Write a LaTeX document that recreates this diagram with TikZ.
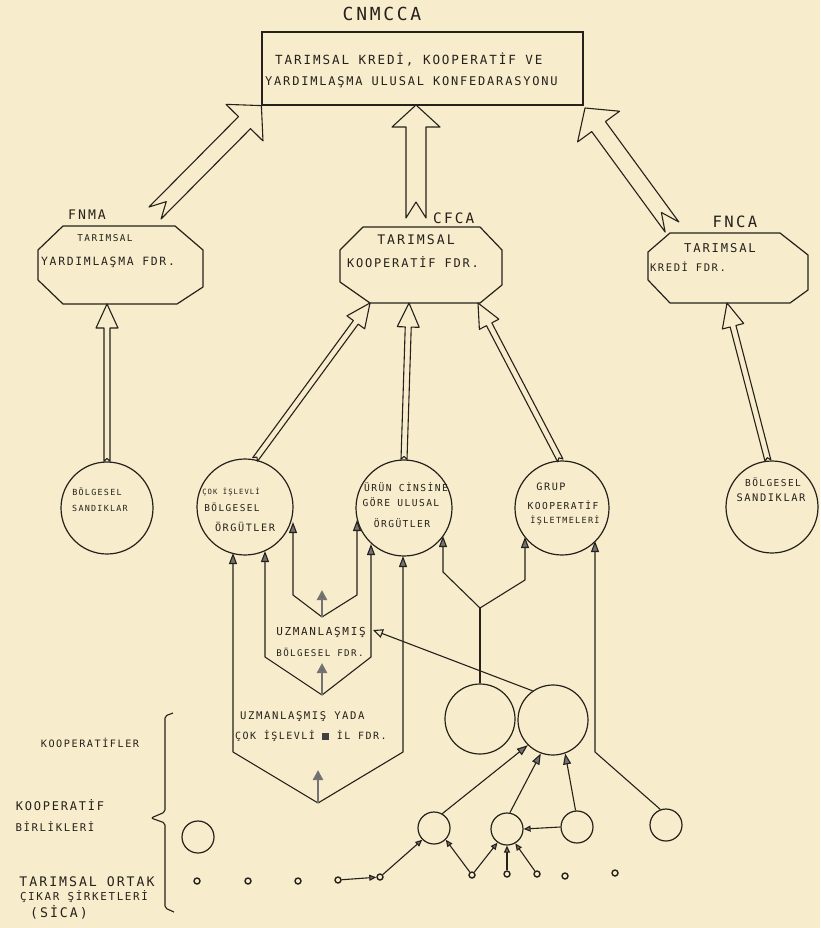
\documentclass[tikz,border=0pt]{standalone}
\usepackage{fontspec}
\usetikzlibrary{calc,arrows.meta}
\newfontfamily\hwfont[LetterSpace=15]{DejaVu Sans Mono}
\newcommand\hwf[1]{\hwfont\fontsize{#1pt}{#1pt}\selectfont}
\definecolor{paper}{RGB}{247,237,204}
\definecolor{ink}{RGB}{38,33,28}
% hollow arrow: #1 tail, #2 tip, #3 half shaft, #4 half head, #5 head length, #6 notch
\newcommand\harrow[6]{%
  \coordinate (hb) at ($(#2)!#5!(#1)$);
  \draw[ln] ($(#1)!#3!90:(#2)$) -- ($(hb)!#3!90:(#2)$) -- ($(hb)!#4!90:(#2)$) -- (#2)
    -- ($(hb)!#4!-90:(#2)$) -- ($(hb)!#3!-90:(#2)$) -- ($(#1)!#3!-90:(#2)$)
    -- ($(#1)!#6!(#2)$) -- cycle;}
\begin{document}
\begin{tikzpicture}[x=1pt,y=-1pt,
  ln/.style={draw=ink, line width=1.1pt, line join=round},
  cir/.style={circle, draw=ink, line width=1.2pt, inner sep=0pt},
  dot/.style={circle, draw=ink, line width=1.4pt, inner sep=0pt, minimum size=6pt},
  oct/.style={draw=ink, line width=1.2pt, line join=round},
  txt/.style={inner sep=0pt, text=ink},
  sarr/.style={-{Triangle[length=11pt,width=8pt,fill=black!55]}},
  sboth/.style={{Triangle[length=11pt,width=8pt,fill=black!55]}-{Triangle[length=11pt,width=8pt,fill=black!55]}},
  ssm/.style={-{Triangle[length=7pt,width=6pt,fill=black!55]}},
  uparr/.style={draw=black!55, line width=2.4pt, -{Triangle[length=10pt,width=10pt,fill=black!60]}}
]
\fill[paper] (0,0) rectangle (820,928);
\useasboundingbox (0,0) rectangle (820,928);

% ---------- top confederation ----------
\node[txt, font={\hwf{18}}] (cnmcca) at (382,14) {CNMCCA};
\node[draw=ink, line width=1.2pt, minimum width=321pt, minimum height=73pt, inner sep=0pt] (conf) at (422.5,68.5) {};
\node[txt, anchor=west, font={\hwf{12.6}}] (conf1) at (275,60) {TARIMSAL KREDİ, KOOPERATİF VE};
\node[txt, anchor=west, font={\hwf{12}}] (conf2) at (265,82) {YARDIMLAŞMA ULUSAL KONFEDARASYONU};

% ---------- federations (octagons) ----------
\draw[oct] (63,226) coordinate (fnma-n) -- (175,226) -- (203,250) -- (203,287) -- (177,304)
  -- (63,304) -- (38,280) -- (38,250) -- cycle;
\draw[oct] (363,227) coordinate (cfca-n) -- (480,227) -- (502,250) -- (502,285) -- (480,303)
  -- (370,303) -- (340,282) -- (340,250) -- cycle;
\draw[oct] (670,233) coordinate (fnca-n) -- (780,233) -- (808,255) -- (808,290) -- (790,303)
  -- (670,303) -- (648,280) -- (648,252) -- cycle;

\node[txt, anchor=west, font={\hwf{13.2}}] (fnmaL) at (68,215) {FNMA};
\node[txt, font={\hwf{9.4}}] (fnma1) at (105,238) {TARIMSAL};
\node[txt, font={\hwf{11.4}}] (fnma2) at (108,262) {YARDIMLAŞMA FDR.};
\node[txt, anchor=west, font={\hwf{14.4}}] (cfcaL) at (433,218) {CFCA};
\node[txt, font={\hwf{13.2}}] (cfca1) at (416,240) {TARIMSAL};
\node[txt, font={\hwf{12}}] (cfca2) at (413,262) {KOOPERATİF FDR.};
\node[txt, font={\hwf{15.6}}] (fncaL) at (735,222) {FNCA};
\node[txt, font={\hwf{12.2}}] (fnca1) at (720,248) {TARIMSAL};
\node[txt, font={\hwf{10.5}}] (fnca2) at (688,267) {KREDİ FDR.};

% ---------- big hollow arrows ----------
\coordinate (tL) at (155,213);
\coordinate (tM) at (416,218);
\coordinate (tR) at (672,227);
\coordinate (hM) at (416,105);
\coordinate (hR) at (585,108);
\harrow{tL}{conf.south west}{8.5pt}{26pt}{24pt}{16pt}
\harrow{tM}{hM}{10pt}{24pt}{22pt}{16pt}
\harrow{tR}{hR}{8.5pt}{26pt}{23pt}{18pt}

% ---------- organisations ----------
\node[cir, minimum size=92pt] (bsL) at (107,508) {};
\node[cir, minimum size=96pt] (cok) at (245,507) {};
\node[cir, minimum size=96pt] (urun) at (404,508) {};
\node[cir, minimum size=94pt] (grup) at (562,508) {};
\node[cir, minimum size=92pt] (bsR) at (772,507) {};

\node[txt, font={\hwf{8.4}}] (bsL1) at (97,492) {BÖLGESEL};
\node[txt, font={\hwf{8.4}}] (bsL2) at (100,508) {SANDIKLAR};
\node[txt, font={\hwf{7.2}}] (cok1) at (231,492) {ÇOK İŞLEVLİ};
\node[txt, font={\hwf{9.4}}] (cok2) at (232,507) {BÖLGESEL};
\node[txt, font={\hwf{10.2}}] (cok3) at (245,527) {ÖRGÜTLER};
\node[txt, font={\hwf{9.6}}] (urun1) at (406,487) {ÜRÜN CİNSİNE};
\node[txt, font={\hwf{9.6}}] (urun2) at (401,502) {GÖRE ULUSAL};
\node[txt, font={\hwf{9.6}}] (urun3) at (402,523) {ÖRGÜTLER};
\node[txt, font={\hwf{10.2}}] (grup1) at (551,487) {GRUP};
\node[txt, font={\hwf{9.6}}] (grup2) at (563,505) {KOOPERATİF};
\node[txt, font={\hwf{8.5}}] (grup3) at (565,520) {İŞLETMELERİ};
\node[txt, font={\hwf{9.5}}] (bsR1) at (773,482) {BÖLGESEL};
\node[txt, font={\hwf{10.4}}] (bsR2) at (771,498) {SANDIKLAR};

% ---------- medium hollow arrows ----------
\coordinate (fnmaB) at (107,304);
\coordinate (cfcaBL) at (370,303);
\coordinate (cfcaB) at (409,303);
\coordinate (cfcaBR) at (478,303);
\coordinate (fncaB) at (727,303);
\harrow{bsL.north}{fnmaB}{3pt}{11pt}{24pt}{3pt}
\harrow{cok.78}{cfcaBL}{3pt}{11pt}{24pt}{3pt}
\harrow{urun.north}{cfcaB}{3pt}{11pt}{24pt}{3pt}
\harrow{grup.92}{cfcaBR}{3pt}{11pt}{24pt}{3pt}
\harrow{bsR.95}{fncaB}{3pt}{11pt}{24pt}{3pt}

% ---------- arrow ends at the circles ----------
\coordinate (tc1) at (233,553);
\coordinate (tc2) at (265,551);
\coordinate (tc3) at (293,522);
\coordinate (tu1) at (357,520);
\coordinate (tu2) at (371,544);
\coordinate (tu3) at (403,556);
\coordinate (tu4) at (443,536);
\coordinate (tg1) at (525,537);
\coordinate (tg2) at (595,541);

% ---------- lower circles ----------
\node[cir, minimum size=70pt] (cA) at (480,719) {};
\node[cir, minimum size=70pt] (cB) at (553,720) {};
\node[cir, minimum size=32pt] (c1) at (434,828) {};
\node[cir, minimum size=32pt] (c2) at (507,829) {};
\node[cir, minimum size=32pt] (c3) at (577,827) {};
\node[cir, minimum size=32pt] (c4) at (666,825) {};
\node[cir, minimum size=32pt] (cL) at (198,837) {};

\node[dot] (d1) at (197,881) {};
\node[dot] (d2) at (248,881) {};
\node[dot] (d3) at (298,881) {};
\node[dot] (d4) at (338,880) {};
\node[dot] (d5) at (380,877) {};
\node[dot] (d6) at (472,875) {};
\node[dot] (d7) at (507,874) {};
\node[dot] (d8) at (537,874) {};
\node[dot] (d9) at (565,876) {};
\node[dot] (d10) at (615,873) {};

% ---------- federation funnels ----------
\coordinate (bpL) at (233,752);
\coordinate (bpB) at (318,803);
\coordinate (bpR) at (403,752);
\coordinate (spL) at (265,657);
\coordinate (spB) at (322,695);
\coordinate (spR) at (371,657);
\coordinate (vL) at (293,595);
\coordinate (vB) at (322,617);
\coordinate (vR) at (357,595);
\draw[ln, sboth] (tc1) -- (bpL) -- (bpB) -- (bpR) -- (tu3);
\draw[ln, sboth] (tc2) -- (spL) -- (spB) -- (spR) -- (tu2);
\draw[ln, sboth] (tc3) -- (vL) -- (vB) -- (vR) -- (tu1);
\coordinate (bpA) at (318,770);
\coordinate (spA) at (322,663);
\coordinate (vA) at (322,590);
\draw[uparr] (bpB) -- (bpA);
\draw[uparr] (spB) -- (spA);
\draw[uparr] (vB) -- (vA);

\node[txt, font={\hwf{11}}] (sp1) at (321,632) {UZMANLAŞMIŞ};
\node[txt, font={\hwf{9.2}}] (sp2) at (320,652) {BÖLGESEL FDR.};
\node[txt, anchor=west, font={\hwf{10.6}}] (bp1) at (240,717) {UZMANLAŞMIŞ YADA};
\node[txt, anchor=west, font={\hwf{10}}] (bp2) at (235,736) {ÇOK İŞLEVLİ {\color{black!75}\rule[-0.5pt]{7pt}{7pt}} İL FDR.};

% ---------- Y to the product / group organisations ----------
\coordinate (yL) at (443,572);
\coordinate (yJ) at (480,608);
\coordinate (yR) at (525,580);
\draw[ln, sboth] (tu4) -- (yL) -- (yJ) -- (yR) -- (tg1);
\draw[ln] (yJ) -- (cA.north);

% right line from small circle to group
\coordinate (gK) at (595,752);
\draw[ln, sarr] (c4.110) -- (gK) -- (tg2);

% circle B to regional federation
\coordinate (spM) at (373,630);
\draw[ln, -{Triangle[open,length=10pt,width=9pt]}] (cB.125) -- (spM);

% lower links
\draw[ln, sarr] (c1.60) -- (cB.225);
\draw[ln, sarr] (c2.80) -- (cB.250);
\draw[ln, sarr] (c3.95) -- (cB.290);
\draw[ln, ssm] (c3.west) -- (c2.east);
\draw[ln, ssm] (d4) -- (d5);
\draw[ln, ssm] (d5) -- (c1.225);
\draw[ln, ssm] (d6) -- (c1.315);
\draw[ln, ssm] (d6) -- (c2.235);
\draw[ln, ssm] (d7) -- (c2.south);
\draw[ln, ssm] (d8) -- (c2.300);

% ---------- left labels and brace ----------
\node[txt, font={\hwf{10.2}}] (lab1) at (90,743) {KOOPERATİFLER};
\node[txt, font={\hwf{12}}] (lab2) at (60,805) {KOOPERATİF};
\node[txt, font={\hwf{10.7}}] (lab3) at (55,827) {BİRLİKLERİ};
\node[txt, font={\hwf{13.2}}] (lab4) at (87,882) {TARIMSAL ORTAK};
\node[txt, font={\hwf{10.9}}] (lab5) at (84,897) {ÇIKAR ŞİRKETLERİ};
\node[txt, font={\hwf{13.2}}] (lab6) at (59,912) {(SİCA)};
\draw[ln, line width=1.1pt, rounded corners=2pt] (173,713) -- (165,716) -- (165,812) -- (151,818) -- (165,823) -- (165,908) -- (174,912);
\end{tikzpicture}
\end{document}
